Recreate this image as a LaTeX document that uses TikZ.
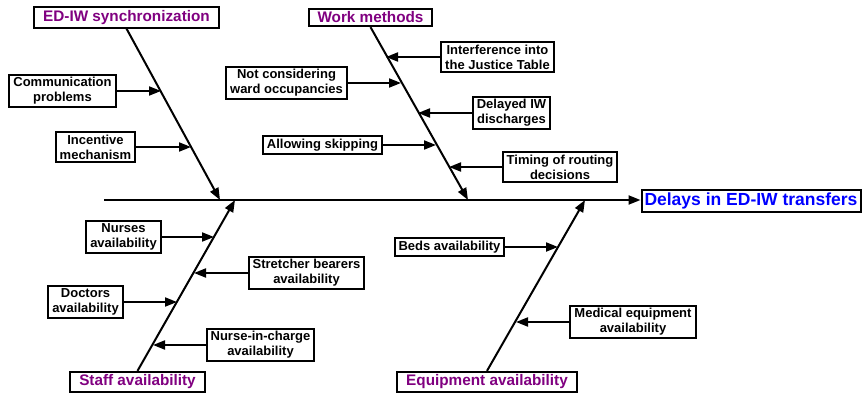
\documentclass[tikz,border=0pt]{standalone}
\usepackage{fontspec}
\setmainfont{Liberation Sans}
\usetikzlibrary{arrows.meta}
\definecolor{catpurple}{RGB}{128,0,128}

\begin{document}
\begin{tikzpicture}[x=1pt,y=-1pt,>={Triangle[length=12pt,width=9pt]},->,line width=2pt,
	cause node/.style={draw,line width=2pt,align=center,inner xsep=4pt,inner ysep=2.5pt,font=\fontsize{13}{15}\selectfont\bfseries},
	cat node/.style={draw,line width=2pt,inner xsep=9pt,inner ysep=3pt,text=catpurple,font=\fontsize{15.3}{17}\selectfont\bfseries},
	effect node/.style={draw,line width=2pt,inner xsep=3pt,inner ysep=3pt,text=blue,font=\fontsize{17.5}{19}\selectfont\bfseries}]

		\useasboundingbox (0,0) rectangle (864,393);

				\node[cat node] (sync) at (126.5,17.5) {ED-IW synchronization};
				\node[cat node] (work) at (370.5,17.5) {Work methods};
				\node[cat node] (staff) at (137.5,382) {Staff availability};
				\node[cat node] (equip) at (487,382) {Equipment availability};
				\node[effect node] (delays) at (751,201) {Delays in ED-IW transfers};

				\node[cause node] (comm) at (62.5,91) {Communication\\problems};
				\node[cause node] (incent) at (95.5,147) {Incentive\\mechanism};
				\node[cause node] (ward) at (286.5,83) {Not considering\\ward occupancies};
				\node[cause node] (skip) at (322.5,145) {Allowing skipping};
				\node[cause node] (justice) at (497.5,57) {Interference into\\the Justice Table};
				\node[cause node] (discharge) at (511.5,113) {Delayed IW\\discharges};
				\node[cause node] (routing) at (560,167) {Timing of routing\\decisions};
				\node[cause node] (nurses) at (123.5,237) {Nurses\\availability};
				\node[cause node] (stretcher) at (306.5,273) {Stretcher bearers\\availability};
				\node[cause node] (doctors) at (85.5,302) {Doctors\\availability};
				\node[cause node] (charge) at (260.5,345) {Nurse-in-charge\\availability};
				\node[cause node] (beds) at (449.5,247) {Beds availability};
				\node[cause node] (medical) at (633,322) {Medical equipment\\availability};

				\coordinate (tail) at (104,200);
				\coordinate (syncend) at (220,200);
				\coordinate (workend) at (468,200);
				\coordinate (staffend) at (235,200);
				\coordinate (equipend) at (585,200);

				\path (tail) edge (delays.west |- tail)
				(sync.south) edge (syncend)
				(work.south) edge (workend)
				(staff.north) edge (staffend)
				(equip.north) edge (equipend);

				\path (comm.east) edge (comm.east -| 161,0)
				(incent.east) edge (incent.east -| 191,0)
				(ward.east) edge (ward.east -| 401,0)
				(skip.east) edge (skip.east -| 436,0)
				(justice.west) edge (justice.west -| 386,0)
				(discharge.west) edge (discharge.west -| 418,0)
				(routing.west) edge (routing.west -| 449,0)
				(nurses.east) edge (nurses.east -| 214,0)
				(stretcher.west) edge (stretcher.west -| 194,0)
				(doctors.east) edge (doctors.east -| 177,0)
				(charge.west) edge (charge.west -| 153,0)
				(beds.east) edge (beds.east -| 558,0)
				(medical.west) edge (medical.west -| 516,0);

\end{tikzpicture}
\end{document}
